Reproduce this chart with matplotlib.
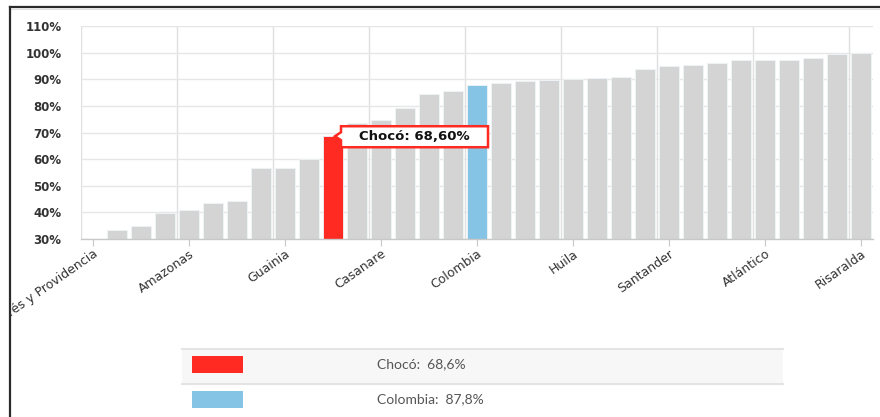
import matplotlib
matplotlib.use("Agg")
import matplotlib.pyplot as plt
import matplotlib.transforms as mtransforms
from matplotlib.patches import Rectangle, Polygon
from matplotlib.lines import Line2D

# ---------------- data ----------------
departments = [
    "San Andrés y Providencia", "Vaupés", "Vichada", "La Guajira", "Amazonas",
    "Guaviare", "Putumayo", "Caquetá", "Guainia", "Arauca", "Chocó", "Nariño",
    "Casanare", "Cauca", "Córdoba", "Magdalena", "Colombia", "Sucre", "Cesar",
    "Bolívar", "Huila", "Tolima", "Meta", "Norte de Santander", "Santander",
    "Caldas", "Boyacá", "Quindío", "Atlántico", "Cundinamarca",
    "Valle del Cauca", "Antioquia", "Risaralda",
]
values = [
    28.0, 33.4, 34.9, 39.9, 40.9, 43.5, 44.2, 56.5, 56.5, 60.0, 68.6, 73.4,
    74.7, 79.2, 84.5, 85.6, 87.8, 88.7, 89.4, 89.8, 90.1, 90.3, 90.9, 93.8,
    95.1, 95.5, 96.1, 97.1, 97.3, 97.3, 98.0, 99.6, 100.0,
]
highlight_names = ["Chocó", "Colombia"]
highlight_colors = ["#ff2a22", "#85c4e4"]
base_color = "#d4d4d4"
y_ticks = [30, 40, 50, 60, 70, 80, 90, 100, 110]
label_step = 4

W, H = 880, 417
fig = plt.figure(figsize=(W / 100, H / 100), dpi=100)

def fx(px):
    return px / W

def fy(py):
    return 1 - py / H

ax = fig.add_axes([fx(81), fy(239), fx(873) - fx(81), fy(26) - fy(239)])

n = len(departments)
xs = list(range(n))
colors = []
for d in departments:
    if d in highlight_names:
        colors.append(highlight_colors[highlight_names.index(d)])
    else:
        colors.append(base_color)

ax.bar(xs, values, width=0.84, color=colors, edgecolor="#eef5f8",
       linewidth=0.6, zorder=2)

ax.set_xlim(-0.5, n - 0.5)
ax.set_ylim(y_ticks[0], y_ticks[-1])
ax.set_yticks(y_ticks)
ax.set_yticklabels([f"{t}%" for t in y_ticks])

major = list(range(0, n, label_step))
ax.set_xticks(major)
ax.set_xticklabels([departments[i] for i in major], rotation=35,
                   ha="right", va="top", rotation_mode="anchor")
ax.set_xticks([i - 0.5 for i in range(0, n, label_step)], minor=True)

ax.grid(axis="y", color="#e6e6e6", linewidth=1, zorder=0)
ax.grid(axis="x", which="minor", color="#e0e0e0", linewidth=1, zorder=0)
ax.grid(axis="x", which="major", visible=False)
ax.set_axisbelow(True)

for s in ["top", "right", "left"]:
    ax.spines[s].set_visible(False)
ax.spines["bottom"].set_color("#c8c8c8")
ax.spines["bottom"].set_linewidth(1)

ax.tick_params(axis="y", length=0, pad=14, labelsize=8.5, labelcolor="#333333")
ax.tick_params(axis="x", which="major", length=5, color="#c8c8c8", pad=1,
               labelsize=9, labelcolor="#333333")
ax.tick_params(axis="x", which="minor", length=0)
for lab in ax.get_yticklabels():
    lab.set_fontweight("bold")

clip = mtransforms.TransformedBbox(
    mtransforms.Bbox([[fx(11), 0], [1, 1]]), fig.transFigure)
for lab in ax.get_xticklabels():
    lab.set_clip_on(True)
    lab.set_clip_box(clip)

# ---------------- tooltip ----------------
ci = departments.index("Chocó")
cv = values[ci]
anchor = fig.dpi_scale_trans + mtransforms.ScaledTranslation(ci, cv, ax.transData)
bx0, bx1, by0, by1 = 0.08, 1.55, -0.11, 0.10
tip = [(bx0, by1), (bx1, by1), (bx1, by0), (bx0, by0), (bx0, -0.04),
       (0.02, 0.0), (bx0, 0.04)]
ax.add_patch(Polygon(tip, closed=True, transform=anchor, facecolor="#ffffff",
                     edgecolor="#ff2a22", linewidth=1.8, zorder=5,
                     clip_on=False))
ax.text(0.815, -0.005, f"Chocó: {cv:.2f}%".replace(".", ","),
        transform=anchor, ha="center", va="center", fontsize=9.5,
        fontweight="bold", color="#111111", zorder=6, clip_on=False)

# ---------------- frame ----------------
fig.add_artist(Line2D([fx(10), 1], [fy(7), fy(7)], color="#2b2b2b", linewidth=1.6))
fig.add_artist(Line2D([fx(10), 1], [fy(9), fy(9)], color="#e2e2e2", linewidth=0.8))
fig.add_artist(Line2D([fx(10), fx(10)], [fy(7), 0], color="#2b2b2b", linewidth=1.6))

# ---------------- legend table ----------------
fig.add_artist(Rectangle((fx(182), fy(384)), fx(783) - fx(182), fy(349) - fy(384),
                         transform=fig.transFigure, facecolor="#f7f7f7",
                         edgecolor="none"))
for yy in (349, 384):
    fig.add_artist(Line2D([fx(182), fx(783)], [fy(yy), fy(yy)],
                          color="#e4e4e4", linewidth=1.5))
row_centers = [364.5, 399.5]
for k, name in enumerate(highlight_names):
    yc = row_centers[k]
    fig.add_artist(Rectangle((fx(192), fy(yc + 8.5)), fx(243) - fx(192), 17 / H,
                             transform=fig.transFigure,
                             facecolor=highlight_colors[k], edgecolor="none"))
    v = values[departments.index(name)]
    fig.text(fx(377), fy(yc), f"{name}:  {v:.1f}%".replace(".", ","),
             ha="left", va="center", fontsize=10, color="#555555",
             family=["Lato", "DejaVu Sans"])

fig.savefig("out.png", dpi=100)
